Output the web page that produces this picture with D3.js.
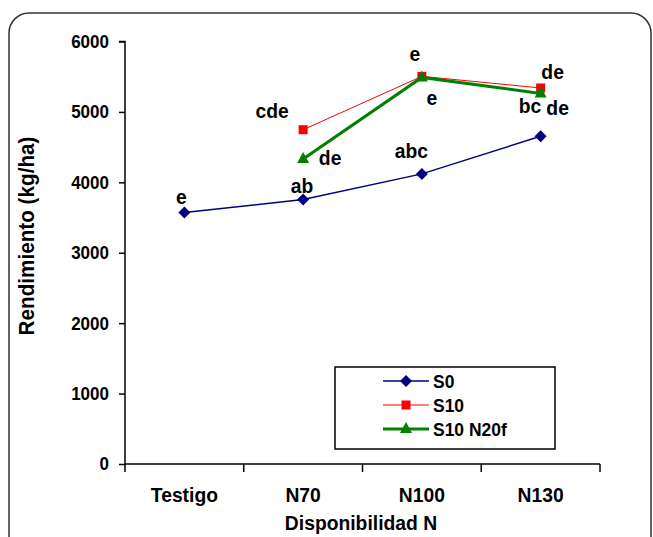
<!DOCTYPE html>
<html><head><meta charset="utf-8">
<script src="https://cdn.jsdelivr.net/npm/d3@7"></script>
<style>
html,body{margin:0;padding:0;background:#fff;}
text{font-family:"Liberation Sans",Arial,sans-serif;font-weight:bold;fill:#000;}
</style></head>
<body>
<svg id="chart" width="653" height="537"></svg>
<script>
const categories = ["Testigo", "N70", "N100", "N130"];
const seriesNames = ["S0", "S10", "S10 N20f"];
const s0Values = [3571, 3756, 4120, 4655];
const s10Values = [null, 4747, 5505, 5340];
const s10n20fValues = [null, 4330, 5490, 5262];
const yTicks = [0, 1000, 2000, 3000, 4000, 5000, 6000];
// significance letters: [series index, category index, text]
const letters = [
  [0, 0, "e"], [0, 1, "ab"], [0, 2, "abc"], [0, 3, "bc"],
  [1, 1, "cde"], [1, 2, "e"], [1, 3, "de"],
  [2, 1, "de"], [2, 2, "e"], [2, 3, "de"]
];
const letterOffsets = [
  [-3, -16], [-1, -13.5], [-10.5, -23], [-10.6, -30.7],
  [-31, -19], [-7, -23], [12, -16],
  [27, -1.5], [10, 20], [17, 14]
];

const svg = d3.select("#chart");
const colors = ["#000080", "#FF0000", "#008000"];
const widths = [1.5, 1, 3];
const SX = 0.92;

// outer frame
svg.append("rect").attr("x", 9).attr("y", 13).attr("width", 642).attr("height", 560)
  .attr("rx", 20).attr("ry", 20).attr("fill", "none").attr("stroke", "#333").attr("stroke-width", 1.5);

const x = d3.scaleBand().domain(categories).range([125, 600]).padding(0);
const y = d3.scaleLinear().domain([0, 6000]).range([464, 41.5]);
const cx = c => x(c) + x.bandwidth() / 2;

// y axis
const yAxis = svg.append("g").attr("transform", "translate(125,0)")
  .call(d3.axisLeft(y).tickValues(yTicks).tickSize(6).tickPadding(10).tickFormat(d3.format("d")));
yAxis.select(".domain").attr("stroke", "#000").attr("stroke-width", 1.5).attr("d", `M-6,${y(6000)}H0V${y(0)}`);
yAxis.selectAll(".tick line").attr("stroke", "#000").attr("stroke-width", 1.5);
yAxis.selectAll("text").style("font-size", "18.5px").style("font-family", "Liberation Sans, Arial").style("font-weight", "bold").attr("fill", "#000");

// x axis
const xAxis = svg.append("g").attr("transform", `translate(0,${y(0)})`)
  .call(d3.axisBottom(x).tickSize(0).tickPadding(23));
xAxis.select(".domain").attr("stroke", "#000").attr("stroke-width", 1.5).attr("d", `M125,0H600`);
xAxis.selectAll("text").style("font-size", "21px").style("font-family", "Liberation Sans, Arial").style("font-weight", "bold").attr("fill", "#000");
const bounds = categories.map(c => x(c)).concat([x(categories[categories.length - 1]) + x.bandwidth()]);
xAxis.selectAll(".btick").data(bounds).enter().append("line")
  .attr("x1", d => d).attr("x2", d => d).attr("y1", 0).attr("y2", 8)
  .attr("stroke", "#000").attr("stroke-width", 1.5);

// axis titles
svg.append("text").attr("x", 361).attr("y", 530).attr("text-anchor", "middle")
  .style("font-size", "21px").text("Disponibilidad N");
svg.append("text").attr("transform", "translate(34,236) rotate(-90)").attr("text-anchor", "middle")
  .style("font-size", "22.5px").text("Rendimiento (kg/ha)");

// series
const allSeries = [s0Values, s10Values, s10n20fValues];
const line = d3.line().defined(d => d.v != null).x(d => cx(d.c)).y(d => y(d.v));

function marker(g, i, px, py) {
  if (i === 0) {
    g.append("path").attr("d", `M${px},${py - 6}L${px + 6},${py}L${px},${py + 6}L${px - 6},${py}Z`).attr("fill", colors[i]);
  } else if (i === 1) {
    g.append("rect").attr("x", px - 4.5).attr("y", py - 4.5).attr("width", 9).attr("height", 9).attr("fill", colors[i]);
  } else {
    g.append("path").attr("d", `M${px},${py - 7}L${px + 6},${py + 4}L${px - 6},${py + 4}Z`).attr("fill", colors[i]);
  }
}

allSeries.forEach((vals, i) => {
  const pts = vals.map((v, k) => ({ c: categories[k], v }));
  svg.append("path").datum(pts).attr("d", line).attr("fill", "none")
    .attr("stroke", colors[i]).attr("stroke-width", widths[i]);
  const g = svg.append("g");
  pts.filter(p => p.v != null).forEach(p => marker(g, i, cx(p.c), y(p.v)));
});

// letters
letters.forEach((l, k) => {
  const v = allSeries[l[0]][l[1]];
  svg.append("text").attr("x", cx(categories[l[1]]) + letterOffsets[k][0])
    .attr("y", y(v) + letterOffsets[k][1]).attr("text-anchor", "middle")
    .attr("dominant-baseline", "central").style("font-size", "21px").text(l[2]);
});

// legend
const lg = svg.append("g");
lg.append("rect").attr("x", 335).attr("y", 367).attr("width", 220).attr("height", 82)
  .attr("fill", "#fff").attr("stroke", "#000").attr("stroke-width", 1.5);
seriesNames.forEach((n, i) => {
  const ly = 381 + i * 24;
  lg.append("line").attr("x1", 383).attr("x2", 429).attr("y1", ly).attr("y2", ly)
    .attr("stroke", colors[i]).attr("stroke-width", widths[i]);
  marker(lg, i, 406, ly);
  lg.append("text").attr("x", 433).attr("y", ly).attr("dominant-baseline", "central")
    .style("font-size", "19px").text(n);
});

// condense all text horizontally (along its own direction)
svg.selectAll("text").each(function () {
  const t = d3.select(this);
  const tx = +(t.attr("x") || 0);
  const prev = t.attr("transform") || "";
  t.attr("transform", `${prev} translate(${tx * (1 - SX)},0) scale(${SX},1)`);
});
</script>
</body></html>
